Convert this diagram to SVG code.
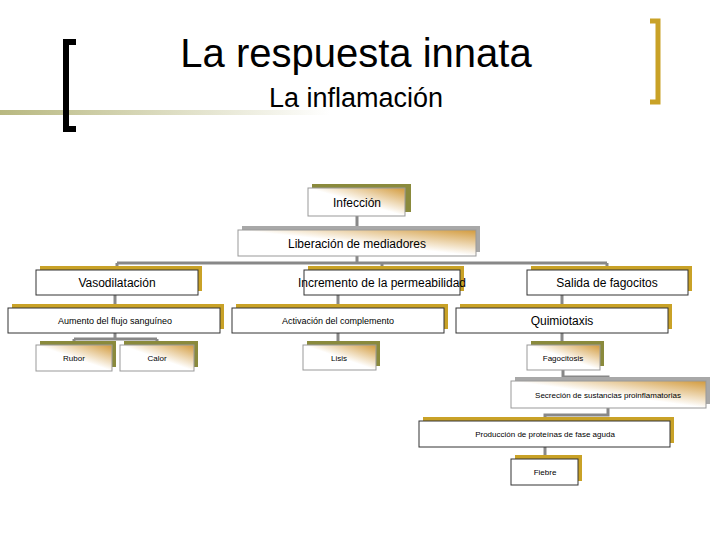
<svg xmlns="http://www.w3.org/2000/svg" width="720" height="540" viewBox="0 0 720 540">
<defs>
<linearGradient id="gl" x1="0" x2="1" y1="0" y2="0"><stop offset="0" stop-color="#b8b880"/><stop offset="1" stop-color="#ffffff"/></linearGradient>
<linearGradient id="gb" x1="0" y1="1" x2="1" y2="0"><stop offset="0.5" stop-color="#ffffff"/><stop offset="1" stop-color="#d29a3c"/></linearGradient>
<style>
.f{fill:#fff;stroke:#333;stroke-width:1}
.g{fill:url(#gb);stroke:#999;stroke-width:1}
.sg{fill:#c9a227}
.so{fill:#8a8a3c}
.sy{fill:#a8a8a8}
.c{stroke:#888;stroke-width:3;fill:none}
text{font-family:"Liberation Sans",Arial,sans-serif;text-anchor:middle;fill:#000}
.m{font-size:12px}.s{font-size:9px}.xs{font-size:8px}
</style>
</defs>
<rect x="0" y="110" width="330" height="5" fill="url(#gl)"/>
<path d="M76,42 H66 V129 H76" fill="none" stroke="#000" stroke-width="6"/>
<path d="M650,21 H658 V102 H650" fill="none" stroke="#c9a227" stroke-width="5"/>
<text x="356" y="67" style="font-size:40px">La respuesta innata</text>
<text x="356" y="107" style="font-size:27px">La inflamación</text>
<g id="connectors">
<path class="c" d="M357,216 V230 M357,256 V263 M117,263 H607 M117,263 V270 M382,263 V270 M607,263 V270"/>
<path class="c" d="M115,295 V308 M115,333 V339 M74,339 H157 M74,339 V345 M157,339 V345"/>
<path class="c" d="M338,295 V308 M338,333 V345"/>
<path class="c" d="M562,295 V308 M562,333 V345 M563,370 V377 H608 V381"/>
<path class="c" d="M608,408 V415 H545 V421 M545,447 V459"/>
</g>
<g id="infeccion"><rect class="so" x="312" y="184" width="99" height="28"/><rect class="g" x="308" y="188" width="97" height="28"/><text class="m" x="357" y="207">Infección</text></g>
<g id="liberacion"><rect class="sy" x="242" y="226" width="238" height="26"/><rect class="g" x="238" y="230" width="238" height="26"/><text class="m" x="357" y="248">Liberación de mediadores</text></g>
<g id="vaso"><rect class="sg" x="40" y="266" width="162" height="25"/><rect class="f" x="36" y="270" width="162" height="25"/><text class="m" x="117" y="287">Vasodilatación</text></g>
<g id="incremento"><rect class="sg" x="308" y="266" width="156" height="25"/><rect class="f" x="304" y="270" width="156" height="25"/><text class="m" x="382" y="287">Incremento de la permeabilidad</text></g>
<g id="salida"><rect class="sg" x="531" y="266" width="161" height="25"/><rect class="f" x="527" y="270" width="161" height="25"/><text class="m" x="607" y="287">Salida de fagocitos</text></g>
<g id="aumento"><rect class="sg" x="12" y="304" width="212" height="25"/><rect class="f" x="8" y="308" width="212" height="25"/><text class="s" x="115" y="324">Aumento del flujo sanguíneo</text></g>
<g id="activacion"><rect class="sg" x="236" y="304" width="212" height="25"/><rect class="f" x="232" y="308" width="212" height="25"/><text class="s" x="338" y="324">Activación del complemento</text></g>
<g id="quimiotaxis"><rect class="sg" x="460" y="304" width="212" height="25"/><rect class="f" x="456" y="308" width="212" height="25"/><text class="m" x="562" y="325">Quimiotaxis</text></g>
<g id="rubor"><rect class="so" x="40" y="341" width="76" height="26"/><rect class="g" x="36" y="345" width="76" height="26"/><text class="xs" x="74" y="361">Rubor</text></g>
<g id="calor"><rect class="so" x="124" y="341" width="74" height="26"/><rect class="g" x="120" y="345" width="74" height="26"/><text class="xs" x="157" y="361">Calor</text></g>
<g id="lisis"><rect class="so" x="307" y="341" width="73" height="25"/><rect class="g" x="303" y="345" width="73" height="25"/><text class="xs" x="339" y="361">Lisis</text></g>
<g id="fagocitosis"><rect class="so" x="531" y="341" width="73" height="25"/><rect class="g" x="527" y="345" width="73" height="25"/><text class="xs" x="563" y="361">Fagocitosis</text></g>
<g id="secrecion"><rect class="sy" x="515" y="377" width="195" height="27"/><rect class="g" x="511" y="381" width="195" height="27"/><text class="xs" x="608" y="398">Secreción de sustancias proinflamatorias</text></g>
<g id="produccion"><rect class="sg" x="423" y="417" width="251" height="26"/><rect class="f" x="419" y="421" width="251" height="26"/><text class="xs" x="545" y="437">Producción de proteínas de fase aguda</text></g>
<g id="fiebre"><rect class="sg" x="515" y="455" width="67" height="26"/><rect class="f" x="511" y="459" width="67" height="26"/><text class="xs" x="545" y="475">Fiebre</text></g>
</svg>
